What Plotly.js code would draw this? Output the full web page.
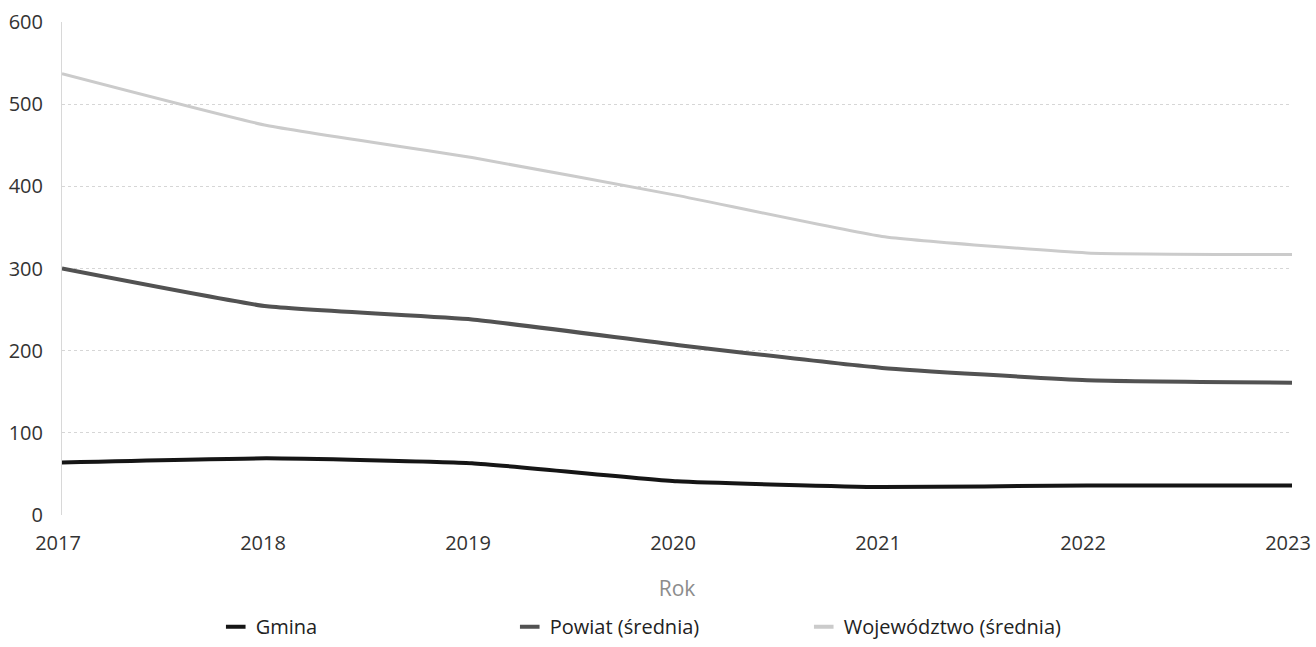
<!DOCTYPE html>
<html>
<head>
<meta charset="utf-8">
<script src="https://cdn.plot.ly/plotly-3.0.1.min.js"></script>
<style>html,body{margin:0;padding:0;background:#fff;}#chart{width:1316px;height:647px;}</style>
</head>
<body>
<div id="chart"></div>
<script>
const years = [2017, 2018, 2019, 2020, 2021, 2022, 2023];
const gmina = [64, 69, 63, 41, 34, 36, 36];
const powiat = [300, 254, 238, 207, 179, 164, 161];
const wojewodztwo = [537, 474, 435, 389, 339, 319, 317];
const seriesNames = ['Gmina', 'Powiat (średnia)', 'Województwo (średnia)'];
const seriesColors = ['#151515', '#525252', '#cbcbcb'];
const yTicks = [0, 100, 200, 300, 400, 500, 600];

const font = "'Open Sans', 'Noto Sans', sans-serif";
const seriesValues = [gmina, powiat, wojewodztwo];
const widths = [4, 4, 3];
const data = [];
seriesValues.forEach((vals, i) => {
  data.push({
    x: years, y: vals, name: seriesNames[i], type: 'scatter', mode: 'lines',
    showlegend: false, legendgroup: 'g' + i,
    line: {color: seriesColors[i], width: widths[i], shape: 'spline', smoothing: 0.4}
  });
});
seriesValues.forEach((vals, i) => {
  data.push({
    x: [null], y: [null], name: seriesNames[i], type: 'scatter', mode: 'markers',
    showlegend: true, legendgroup: 'g' + i,
    marker: {symbol: 'line-ew', size: 14, color: seriesColors[i], line: {color: seriesColors[i], width: 4}}
  });
});
const layout = {
  width: 1316, height: 647,
  margin: {l: 62, r: 24, t: 22, b: 132, autoexpand: false},
  paper_bgcolor: '#fff', plot_bgcolor: '#fff',
  font: {family: font, size: 20, color: '#333'},
  showlegend: true,
  legend: {orientation: 'h', x: 0.125, xanchor: 'left', y: -0.266, yanchor: 'bottom',
    font: {family: font, size: 20, color: '#222'}, entrywidth: 249, entrywidthmode: 'pixels', itemwidth: 30,
    bgcolor: 'rgba(0,0,0,0)'},
  xaxis: {
    range: [2017, 2023], tickvals: years, ticktext: years.map(String),
    showgrid: false, zeroline: false, showline: false, ticks: '',
    ticklabelstandoff: 14, ticklabelshift: -4,
    tickfont: {size: 20, color: '#333'},
    title: {text: 'Rok', font: {size: 21, color: '#8c8c8c'}, standoff: 26}
  },
  yaxis: {
    range: [0, 600], tickvals: yTicks, ticks: '',
    ticklabelstandoff: 14,
    showgrid: true, gridcolor: '#d6d6d6', griddash: 'dot', gridwidth: 1,
    zeroline: false, showline: true, linecolor: '#d8d8d8', linewidth: 1,
    tickfont: {size: 20, color: '#333'}
  }
};
Plotly.newPlot('chart', data, layout, {displayModeBar: false, staticPlot: true});
</script>
</body>
</html>
